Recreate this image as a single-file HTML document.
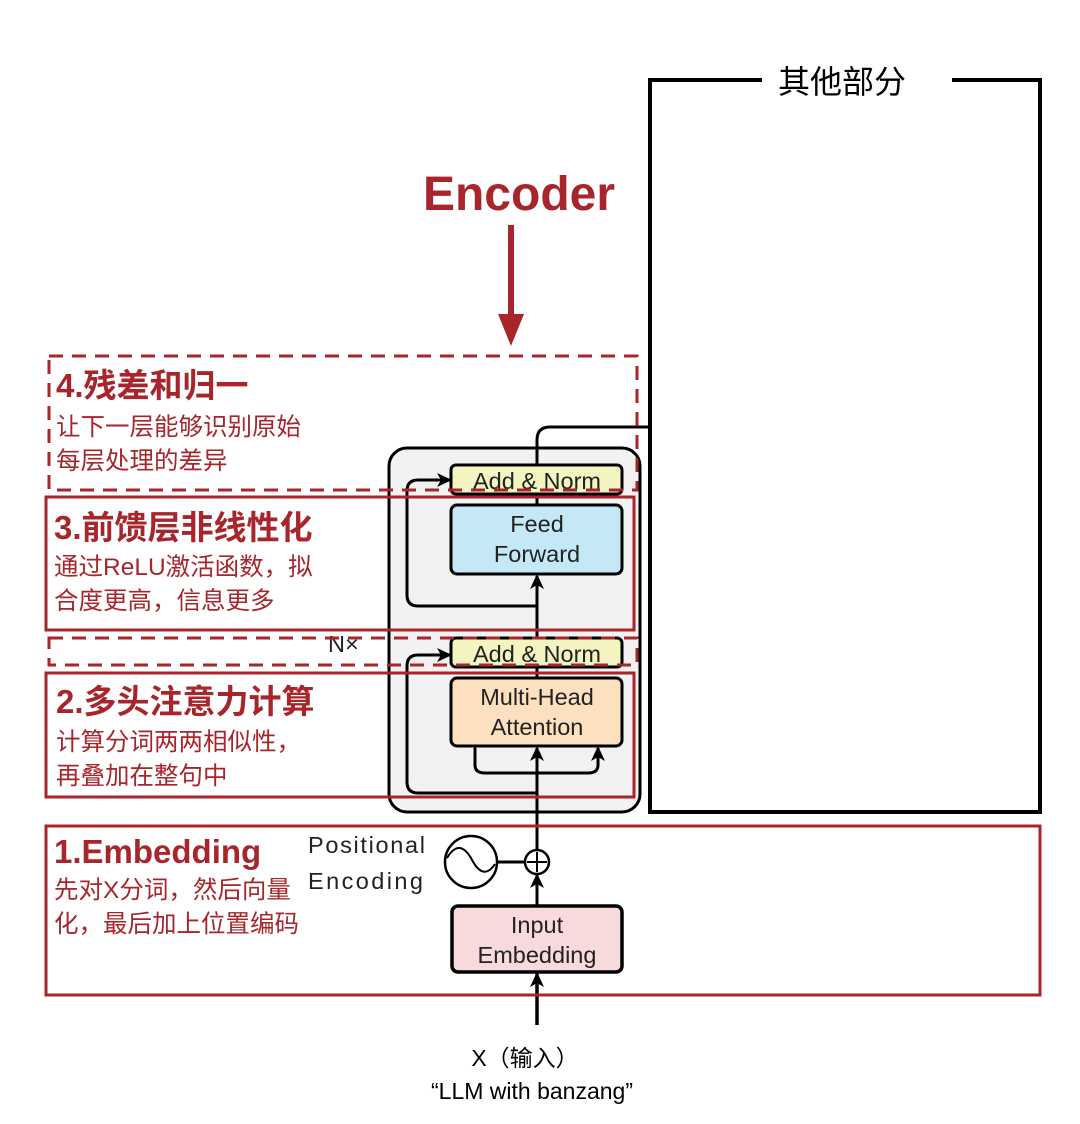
<!DOCTYPE html>
<html><head><meta charset="utf-8"><style>
html,body{margin:0;padding:0;background:#fff}
svg{display:block}
.h{font-family:"Liberation Sans","Noto Sans CJK SC",sans-serif;font-weight:bold;fill:#a8262b;font-size:33px}
.b{font-family:"Liberation Sans","Noto Sans CJK SC",sans-serif;fill:#a8262b;font-size:24.5px}
.t{font-family:"Liberation Sans","Noto Sans CJK SC",sans-serif;fill:#222;font-size:23.5px}
.k{font-family:"Liberation Sans","Noto Sans CJK SC",sans-serif;fill:#000}
</style></head><body>
<svg width="1080" height="1124" viewBox="0 0 1080 1124" xmlns="http://www.w3.org/2000/svg">
<defs>
<marker id="a" markerWidth="16" markerHeight="16" refX="13" refY="8" orient="auto" markerUnits="userSpaceOnUse"><path d="M0,1 L15,8 L0,15 L4,8 z" fill="#000"/></marker>
</defs>
<path d="M762,80 H650 V812 H1040 V80 H952" fill="none" stroke="#000" stroke-width="4"/>
<text x="842" y="93" class="k" font-size="32" text-anchor="middle">其他部分</text>
<text x="519" y="210" font-family="Liberation Sans,sans-serif" font-weight="bold" font-size="48" fill="#a8262b" text-anchor="middle">Encoder</text>
<line x1="511" y1="225" x2="511" y2="318" stroke="#a8262b" stroke-width="6"/>
<path d="M498,314 L524,314 L511,346 z" fill="#a8262b"/>
<rect x="389" y="448" width="251" height="364" rx="18" fill="#f2f2f2" stroke="#000" stroke-width="3"/>
<path d="M537,465 V440 Q537,427 550,427 H650" fill="none" stroke="#000" stroke-width="3"/>
<line x1="537" y1="665" x2="537" y2="576" stroke="#000" stroke-width="3" marker-end="url(#a)"/>
<line x1="537" y1="505" x2="537" y2="494" stroke="#000" stroke-width="3"/>
<line x1="537" y1="678" x2="537" y2="667" stroke="#000" stroke-width="3"/>
<path d="M537,606 H418 Q407,606 407,595 V491 Q407,480 418,480 H450" fill="none" stroke="#000" stroke-width="3" marker-end="url(#a)"/>
<path d="M537,793 H418 Q407,793 407,782 V666 Q407,655 418,655 H450" fill="none" stroke="#000" stroke-width="3" marker-end="url(#a)"/>
<line x1="537" y1="850" x2="537" y2="748" stroke="#000" stroke-width="3" marker-end="url(#a)"/>
<path d="M475,748 V765 Q475,773 485,773 H588 Q598,773 598,765 V748" fill="none" stroke="#000" stroke-width="3" marker-start="url(#a)" marker-end="url(#a)"/>
<rect x="451" y="465" width="171" height="29" rx="5" fill="#f3f4c0" stroke="#000" stroke-width="3"/>
<text x="537" y="489" class="t" text-anchor="middle">Add &amp; Norm</text>
<rect x="451" y="505" width="171" height="69" rx="6" fill="#c5e8f7" stroke="#000" stroke-width="3"/>
<text x="537" y="532" class="t" text-anchor="middle">Feed</text>
<text x="537" y="562" class="t" text-anchor="middle">Forward</text>
<rect x="451" y="638" width="171" height="29" rx="5" fill="#f3f4c0" stroke="#000" stroke-width="3"/>
<text x="537" y="662" class="t" text-anchor="middle">Add &amp; Norm</text>
<rect x="451" y="678" width="171" height="68" rx="6" fill="#fde0c0" stroke="#000" stroke-width="3"/>
<text x="537" y="705" class="t" text-anchor="middle">Multi-Head</text>
<text x="537" y="735" class="t" text-anchor="middle">Attention</text>
<text x="328" y="652" class="t" font-size="20">N×</text>
<circle cx="471" cy="862" r="26" fill="#fff" stroke="#000" stroke-width="2.5"/>
<path d="M447,858 Q459,838 471,858 Q483,882 495,864" fill="none" stroke="#000" stroke-width="2"/>
<line x1="497" y1="862" x2="525" y2="862" stroke="#000" stroke-width="3"/>
<circle cx="537" cy="862" r="12" fill="#fff" stroke="#000" stroke-width="2.5"/>
<line x1="537" y1="852" x2="537" y2="872" stroke="#000" stroke-width="2"/>
<line x1="527" y1="862" x2="547" y2="862" stroke="#000" stroke-width="2"/>
<text x="308" y="853" class="t" font-size="27" textLength="117">Positional</text>
<text x="308" y="889" class="t" font-size="27" textLength="115">Encoding</text>
<line x1="537" y1="906" x2="537" y2="875" stroke="#000" stroke-width="3" marker-end="url(#a)"/>
<rect x="452" y="906" width="170" height="66" rx="6" fill="#f9dadc" stroke="#000" stroke-width="3.5"/>
<text x="537" y="933" class="t" text-anchor="middle">Input</text>
<text x="537" y="963" class="t" text-anchor="middle">Embedding</text>
<line x1="537" y1="1025" x2="537" y2="974" stroke="#000" stroke-width="3.5" marker-end="url(#a)"/>
<text x="525" y="1066" class="k" font-size="23" text-anchor="middle">X（输入）</text>
<text x="532" y="1099" class="k" font-size="23" text-anchor="middle">“LLM with banzang”</text>
<rect x="49" y="356" width="588" height="134" fill="none" stroke="#a8262b" stroke-width="3" stroke-dasharray="14,9"/>
<rect x="46" y="497" width="588" height="133" fill="none" stroke="#a8262b" stroke-width="3"/>
<rect x="49" y="638" width="588" height="27" fill="none" stroke="#a8262b" stroke-width="3" stroke-dasharray="14,9"/>
<rect x="46" y="673" width="588" height="124" fill="none" stroke="#a8262b" stroke-width="3"/>
<rect x="46" y="826" width="994" height="169" fill="none" stroke="#a8262b" stroke-width="3"/>
<text x="56" y="397" class="h">4.残差和归一</text>
<text x="56" y="435" class="b">让下一层能够识别原始</text>
<text x="56" y="469" class="b">每层处理的差异</text>
<text x="54" y="539" class="h">3.前馈层非线性化</text>
<text x="54" y="575" class="b">通过ReLU激活函数，拟</text>
<text x="54" y="609" class="b">合度更高，信息更多</text>
<text x="56" y="713" class="h">2.多头注意力计算</text>
<text x="56" y="750" class="b">计算分词两两相似性，</text>
<text x="56" y="784" class="b">再叠加在整句中</text>
<text x="54" y="863" class="h">1.Embedding</text>
<text x="54" y="898" class="b">先对X分词，然后向量</text>
<text x="54" y="932" class="b">化，最后加上位置编码</text>
</svg>
</body></html>
